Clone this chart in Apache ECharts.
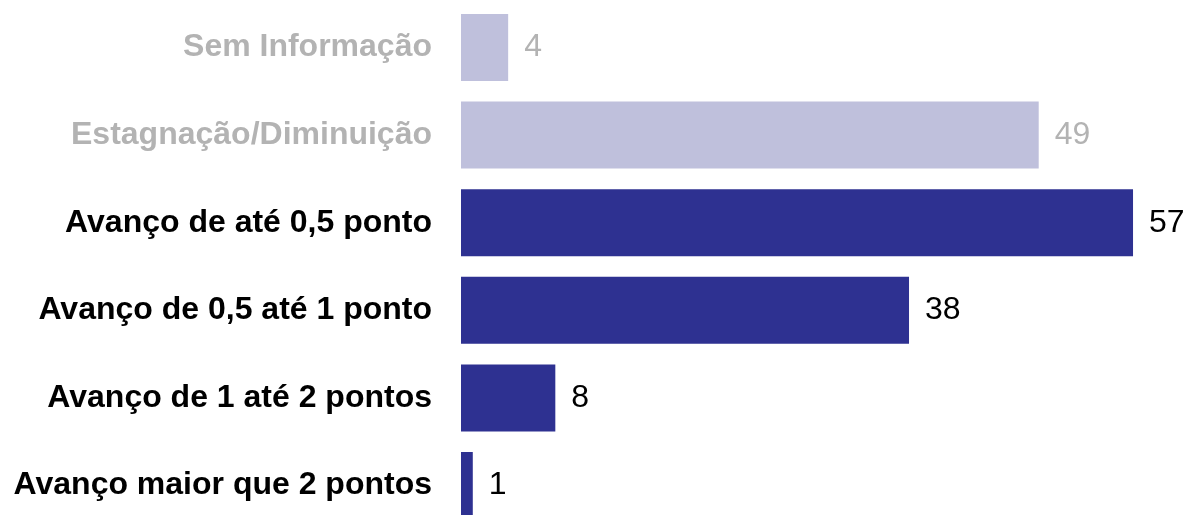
<!DOCTYPE html>
<html>
<head>
<meta charset="utf-8">
<style>
  html, body { margin: 0; padding: 0; background: #ffffff; }
  #chart { width: 1185px; height: 515px; }
</style>
<script src="https://cdn.jsdelivr.net/npm/echarts@6/dist/echarts.min.js"></script>
</head>
<body>
<div id="chart"></div>
<script>
const categories = [
  'Sem Informação',
  'Estagnação/Diminuição',
  'Avanço de até 0,5 ponto',
  'Avanço de 0,5 até 1 ponto',
  'Avanço de 1 até 2 pontos',
  'Avanço maior que 2 pontos'
];
const values = [4, 49, 57, 38, 8, 1];
const groups = ['muted', 'muted', 'advance', 'advance', 'advance', 'advance'];

const styles = {
  muted:   { bar: '#BFC0DC', cat: '#B3B3B3', val: '#B3B3B3' },
  advance: { bar: '#2E3191', cat: '#000000', val: '#000000' }
};

const FONT = '"Liberation Sans", Arial, sans-serif';
const FS = 32;

const chart = echarts.init(document.getElementById('chart'), null, { renderer: 'canvas' });

const seriesData = values.map((v, i) => {
  const s = styles[groups[i]];
  return {
    value: v,
    itemStyle: { color: s.bar },
    label: { color: s.val }
  };
});

chart.setOption({
  animation: false,
  backgroundColor: '#ffffff',
  grid: {
    left: 461, top: 3.7, width: 707.4, height: 525.6,
    containLabel: false,
    outerBoundsMode: 'none'
  },
  xAxis: {
    type: 'value',
    min: 0,
    max: 60,
    show: false
  },
  yAxis: {
    type: 'category',
    inverse: true,
    data: categories,
    axisLine: { show: false },
    axisTick: { show: false },
    splitLine: { show: false },
    axisLabel: {
      margin: 29,
      fontFamily: FONT,
      fontSize: FS,
      fontWeight: 'bold',
      color: function (value, index) {
        return styles[groups[index]].cat;
      }
    }
  },
  series: [{
    type: 'bar',
    data: seriesData,
    barCategoryGap: '23.5%',
    label: {
      show: true,
      position: 'right',
      distance: 16,
      fontFamily: FONT,
      fontSize: FS,
      fontWeight: 'normal'
    }
  }]
});
</script>
</body>
</html>
